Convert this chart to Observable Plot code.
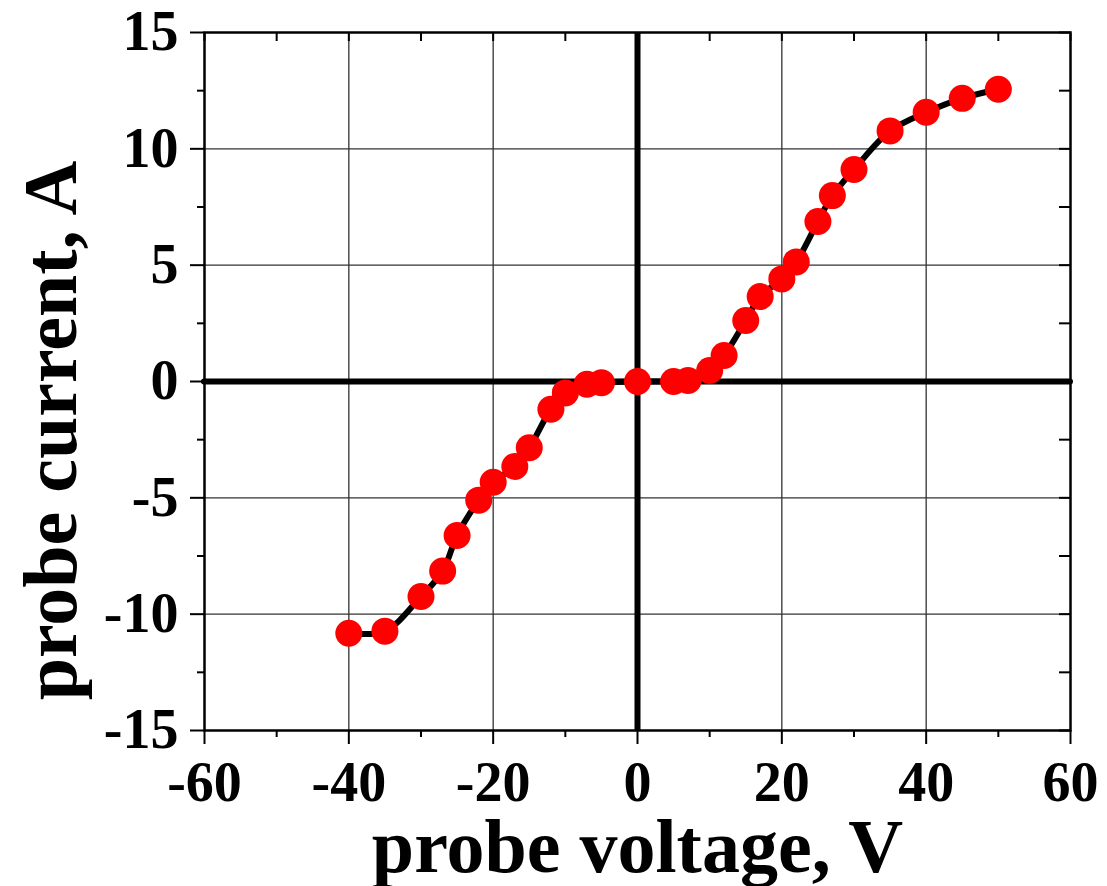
<!DOCTYPE html>
<html>
<head>
<meta charset="utf-8">
<script src="https://cdn.jsdelivr.net/npm/d3@7"></script>
<script src="https://cdn.jsdelivr.net/npm/@observablehq/plot@0.6"></script>
<style>
  html, body { margin: 0; padding: 0; background: #fff; }
  #chart svg { display: block; }
</style>
</head>
<body>
<div id="chart"></div>
<script>
// Probe I–V characteristic: voltage (V) and measured current (A)
const voltage = [-40, -35, -30, -27, -25, -22, -20, -17, -15, -12, -10, -7, -5, 0,
                 5, 7, 10, 12, 15, 17, 20, 22, 25, 27, 30, 35, 40, 45, 50];
const current = [-10.82, -10.73, -9.24, -8.15, -6.62, -5.1, -4.33, -3.65, -2.85, -1.19, -0.49, -0.12, -0.05, 0,
                 0, 0.04, 0.47, 1.12, 2.62, 3.65, 4.41, 5.14, 6.88, 7.99, 9.11, 10.77, 11.57, 12.17, 12.56];

const xMajor = [-60, -40, -20, 0, 20, 40, 60];
const xMinor = [-50, -30, -10, 10, 30, 50];
const yMajor = [-15, -10, -5, 0, 5, 10, 15];
const yMinor = [-12.5, -7.5, -2.5, 2.5, 7.5, 12.5];

const xLabel = "probe voltage, V";
const yLabel = "probe current, A";

const points = voltage.map((v, i) => ({v, i: current[i]}));
const fmt = d => String(d);
const font = "'Liberation Serif', 'Times New Roman', serif";

const chart = Plot.plot({
  width: 1107,
  height: 886,
  marginLeft: 204,
  marginRight: 37,
  marginTop: 32,
  marginBottom: 156,
  style: {fontFamily: font, fontWeight: "bold", fontSize: "56px", color: "#000", background: "#fff"},
  x: {domain: [-60, 60]},
  y: {domain: [-15, 15]},
  marks: [
    Plot.gridX(xMajor.filter(d => d !== 0 && Math.abs(d) !== 60), {stroke: "#333", strokeOpacity: 1, strokeWidth: 1.3}),
    Plot.gridY(yMajor.filter(d => d !== 0 && Math.abs(d) !== 15), {stroke: "#333", strokeOpacity: 1, strokeWidth: 1.3}),
    Plot.ruleX([0], {stroke: "#000", strokeWidth: 6}),
    Plot.ruleY([0], {stroke: "#000", strokeWidth: 6, strokeLinecap: "round"}),
    // bottom axis: labelled majors, shorter minors
    Plot.axisX(xMajor, {anchor: "bottom", tickSize: 14, tickPadding: 17, tickFormat: fmt, strokeWidth: 2, label: null, fontSize: 56}),
    Plot.axisX(xMinor, {anchor: "bottom", tickSize: 7, text: null, strokeWidth: 2, label: null}),
    // left axis
    Plot.axisY(yMajor, {anchor: "left", tickSize: 14, tickPadding: 12, tickFormat: fmt, strokeWidth: 2, label: null, fontSize: 56}),
    Plot.axisY(yMinor, {anchor: "left", tickSize: 7, text: null, strokeWidth: 2, label: null}),
    // mirrored inward ticks on top and right
    Plot.axisX(xMajor.concat(xMinor), {anchor: "top", tickSize: -8, text: null, strokeWidth: 2, label: null}),
    Plot.axisY(yMajor.concat(yMinor), {anchor: "right", tickSize: -12, text: null, strokeWidth: 2, label: null}),
    Plot.frame({stroke: "#000", strokeWidth: 2.5}),
    Plot.line(points, {x: "v", y: "i", curve: "catmull-rom", stroke: "#000", strokeWidth: 6}),
    Plot.dot(points, {x: "v", y: "i", r: 13.5, fill: "#ff0000", stroke: "none"}),
    Plot.text([xLabel], {frameAnchor: "bottom", dy: 141, fontSize: 76, fontWeight: "bold", fill: "#000"}),
    Plot.text([yLabel], {frameAnchor: "left", textAnchor: "middle", rotate: -90, dx: -153, dy: 49, fontSize: 76, fontWeight: "bold", fill: "#000"})
  ]
});

document.getElementById("chart").appendChild(chart);
</script>
</body>
</html>
